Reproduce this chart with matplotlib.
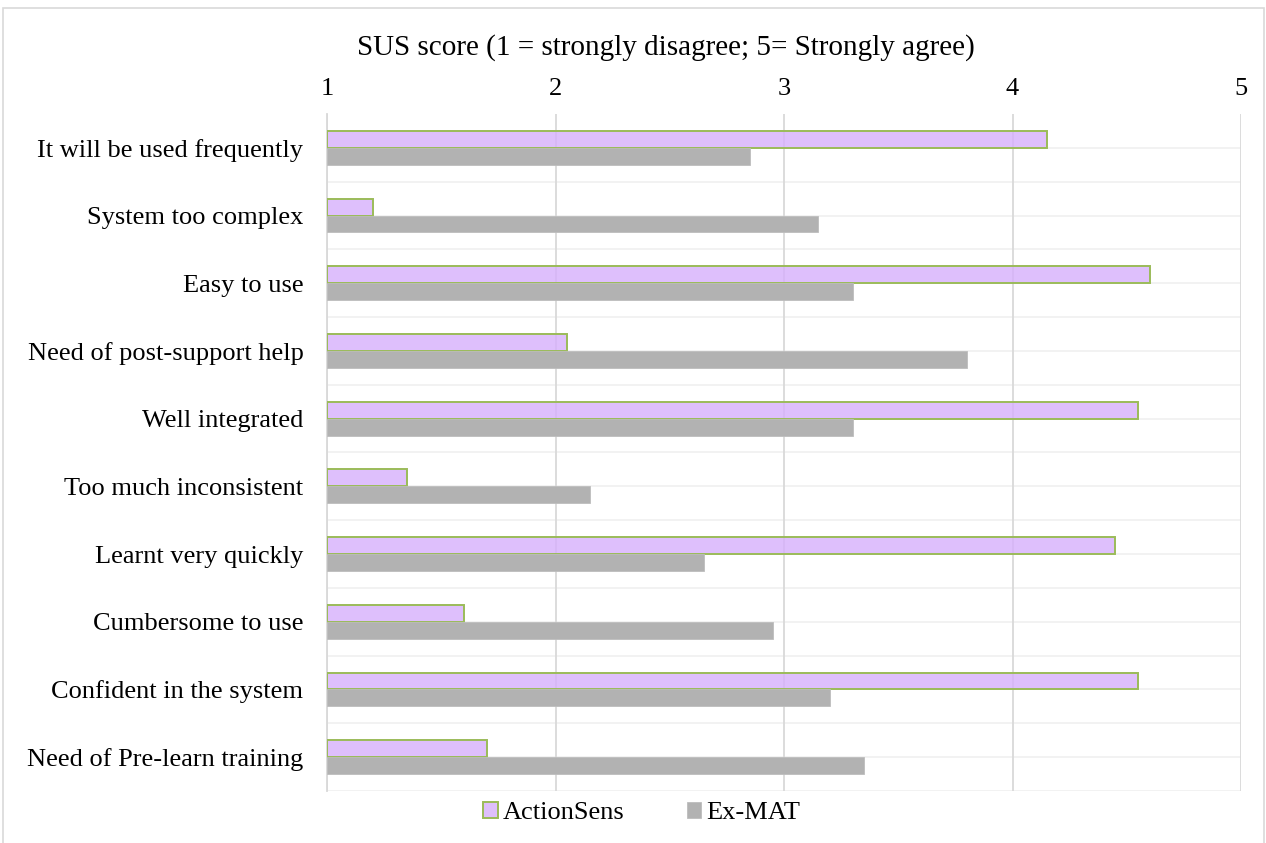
import numpy as np
import matplotlib
matplotlib.use('Agg')
import matplotlib.pyplot as plt
from matplotlib.patches import Rectangle

plt.rcParams['font.family'] = ['Liberation Serif', 'DejaVu Serif']

# SUS items, top to bottom
items = ['It will be used frequently', 'System too complex', 'Easy to use',
         'Need of post-support help', 'Well integrated', 'Too much inconsistent',
         'Learnt very quickly', 'Cumbersome to use', 'Confident in the system',
         'Need of Pre-learn training']
actionsens = [4.15, 1.2, 4.6, 2.05, 4.55, 1.35, 4.45, 1.6, 4.55, 1.7]
exmat = [2.85, 3.15, 3.3, 3.8, 3.3, 2.15, 2.65, 2.95, 3.2, 3.35]
series_names = ['ActionSens', 'Ex-MAT']
xticks = [1, 2, 3, 4, 5]

fig = plt.figure(figsize=(12.66, 8.43), dpi=100)
ax = fig.add_axes([327 / 1266, 52 / 843, (1241 - 327) / 1266, (791 - 114) / 843])

y = np.arange(len(items))
h = 0.25
base = 1
ax.barh(y - h / 2, np.array(actionsens) - base, left=base, height=h,
        color=(0.84, 0.69, 0.99, 0.8), edgecolor='#9BBB59', linewidth=1.4,
        label=series_names[0], zorder=3)
ax.barh(y + h / 2, np.array(exmat) - base, left=base, height=h,
        color='#B2B2B2', edgecolor='#BDBDBD', linewidth=0.6,
        label=series_names[1], zorder=3)

ax.set_xlim(1, 5)
ax.set_ylim(len(items) - 0.5, -0.5)

# light horizontal lines every half category
for yy in np.arange(0, len(items), 0.5):
    ax.axhline(yy, color='#F0F0F0', linewidth=1.2, zorder=1)
for xx in xticks:
    ax.axvline(xx, color='#D9D9D9', linewidth=1.3, zorder=2)

ax.xaxis.tick_top()
ax.set_xticks(xticks)
ax.set_xticklabels([str(t) for t in xticks], fontsize=19)
ax.tick_params(axis='x', length=0, pad=10)
ax.set_yticks(y)
ax.set_yticklabels(items, fontsize=19)
ax.tick_params(axis='y', length=0, pad=17)

for s in ['top', 'right', 'bottom']:
    ax.spines[s].set_visible(False)
ax.spines['left'].set_color('#D9D9D9')
ax.spines['left'].set_linewidth(1.3)

fig.text(666 / 1266, 1 - 48 / 843, 'SUS score (1 = strongly disagree; 5= Strongly agree)',
         ha='center', va='center', fontsize=21)

fig.legend(loc='center', bbox_to_anchor=(642 / 1266, 1 - 813 / 843), ncol=2,
           frameon=False, fontsize=19, handlelength=0.55, handleheight=0.55,
           handletextpad=0.2, columnspacing=2.35)

# outer chart border (bottom edge runs off the image)
fig.patches.append(Rectangle((3 / 1266, -0.05), 1261 / 1266, 1.05 - 8 / 843,
                             transform=fig.transFigure, fill=False,
                             edgecolor='#D9D9D9', linewidth=1.2))

fig.savefig('out.png', dpi=100, facecolor='white')
